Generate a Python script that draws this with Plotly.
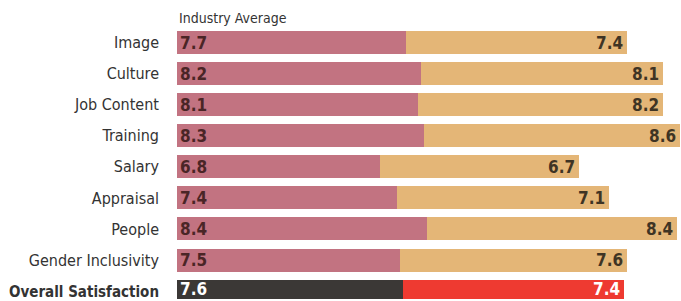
import plotly.graph_objects as go

categories = ["Image", "Culture", "Job Content", "Training", "Salary",
              "Appraisal", "People", "Gender Inclusivity", "Overall Satisfaction"]
company_values = [7.7, 8.2, 8.1, 8.3, 6.8, 7.4, 8.4, 7.5, 7.6]
industry_values = [7.4, 8.1, 8.2, 8.6, 6.7, 7.1, 8.4, 7.6, 7.4]
header_label = "Industry Average"

FONT = "Liberation Sans Narrow, DejaVu Sans Condensed, Arial Narrow, sans-serif"
n = len(categories)
ypos = list(range(n))

left_colors = ["#c27381"] * (n - 1) + ["#3b3836"]
right_colors = ["#e4b677"] * (n - 1) + ["#ee3a31"]
left_text_colors = ["#4a2526"] * (n - 1) + ["#ffffff"]
right_text_colors = ["#3f3424"] * (n - 1) + ["#ffffff"]

fig = go.Figure()
fig.add_trace(go.Bar(
    y=ypos, x=company_values, orientation="h",
    marker=dict(color=left_colors, line=dict(width=0)),
    width=0.74, hoverinfo="skip",
))
fig.add_trace(go.Bar(
    y=ypos, x=industry_values, orientation="h",
    marker=dict(color=right_colors, line=dict(width=0)),
    width=0.74, hoverinfo="skip",
))

annotations = [dict(
    x=0, y=-0.8, xref="x", yref="y", text=header_label,
    showarrow=False, xanchor="left", yanchor="middle",
    font=dict(family=FONT, size=14, color="#333333"),
)]
for i, (a, b) in enumerate(zip(company_values, industry_values)):
    ys = 2 if i == n - 1 else 0
    annotations.append(dict(
        x=0, y=i, xref="x", yref="y", text=f"<b>{a:.1f}</b>",
        showarrow=False, xanchor="left", yanchor="middle", xshift=1, yshift=ys,
        font=dict(family=FONT, size=17, color=left_text_colors[i]),
    ))
    annotations.append(dict(
        x=a + b, y=i, xref="x", yref="y", text=f"<b>{b:.1f}</b>",
        showarrow=False, xanchor="right", yanchor="middle", xshift=-2, yshift=ys,
        font=dict(family=FONT, size=17, color=right_text_colors[i]),
    ))

ticktext = categories[:-1] + [
    f"<span style='font-size:15px'><b>{categories[-1]}</b></span>"
]

fig.update_layout(
    barmode="stack",
    width=681, height=301,
    margin=dict(l=177, r=0, t=0, b=0),
    paper_bgcolor="white", plot_bgcolor="white",
    showlegend=False,
    font=dict(family=FONT, color="#333333"),
    xaxis=dict(range=[0, 16.92], visible=False, fixedrange=True),
    yaxis=dict(range=[8.256, -1.376], tickvals=ypos, ticktext=ticktext,
               showgrid=False, zeroline=False, showline=False, ticks="",
               ticklabelstandoff=17, ticklabeloverflow="allow",
               fixedrange=True,
               tickfont=dict(family=FONT, size=16, color="#333333")),
    annotations=annotations,
)

fig.write_html(
    "out.html",
    config={"displayModeBar": False},
    post_script="document.body.style.margin='0';document.body.style.overflow='hidden';",
)
